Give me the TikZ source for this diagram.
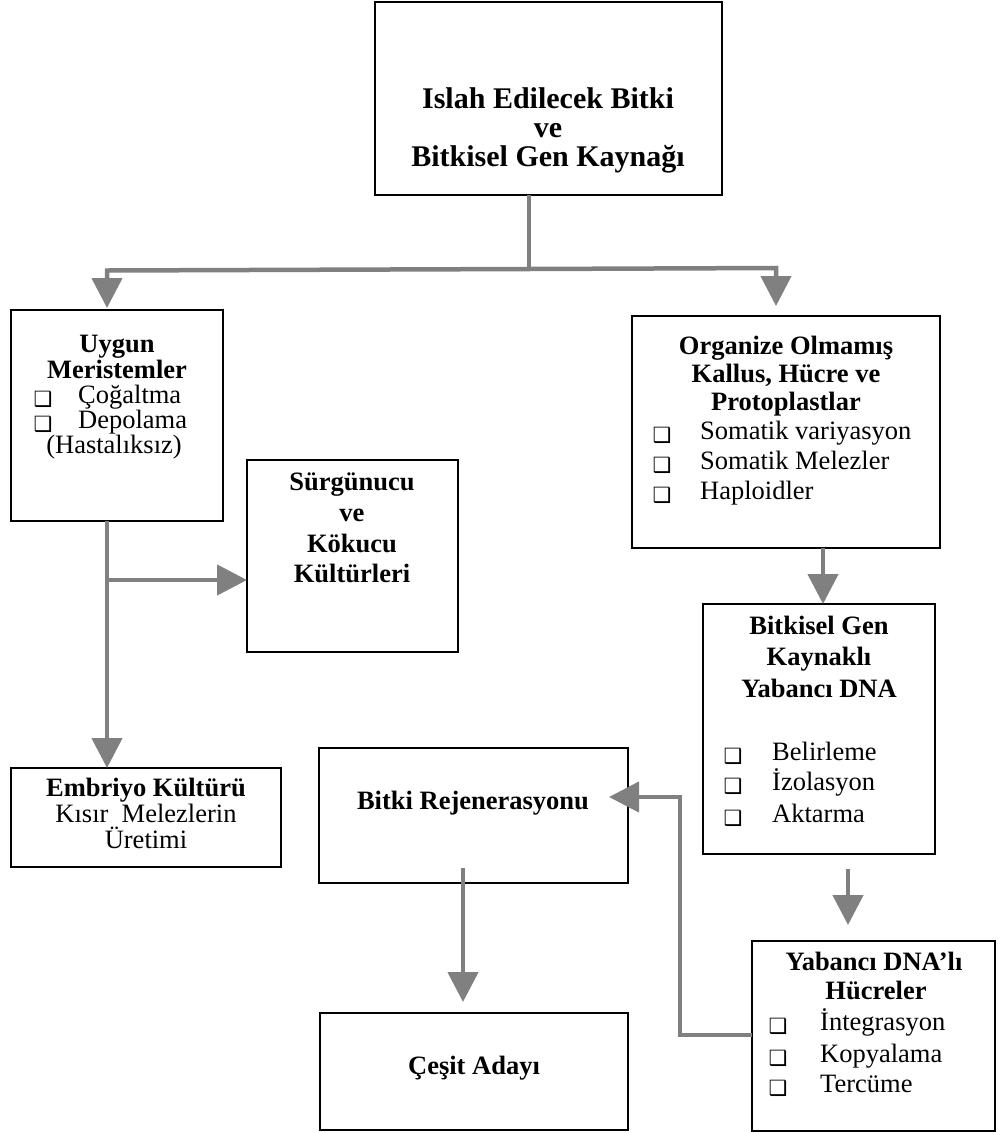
\documentclass[tikz,border=0pt]{standalone}
\usepackage{fontspec}
\setmainfont{Liberation Serif}
\newfontfamily\symfont{DejaVu Sans}
\usetikzlibrary{arrows.meta}
\definecolor{arrgray}{HTML}{808080}
\tikzset{
  box/.style={draw=black, line width=1.6pt, inner sep=0pt, outer sep=0pt, anchor=north west, fill=white},
  conn/.style={draw=arrgray, line width=4.5pt},
  arr/.style={conn, -{Triangle[width=30pt,length=30pt]}},
  ttl/.style={font=\fontsize{26.5}{30}\selectfont\bfseries, inner sep=0pt, anchor=mid},
  bigttl/.style={font=\fontsize{30}{34}\selectfont\bfseries, inner sep=0pt, anchor=mid},
  txt/.style={font=\fontsize{26.5}{30}\selectfont, inner sep=0pt, anchor=mid},
  itm/.style={font=\fontsize{26.5}{30}\selectfont, inner sep=0pt, anchor=mid west},
  chk/.style={font=\symfont\fontsize{21}{21}\selectfont, inner sep=0pt, anchor=center},
}
\begin{document}
\begin{tikzpicture}[x=1pt,y=-1pt]
\useasboundingbox (0,0) rectangle (997,1133);
% boxes
\node[box, minimum width=347pt, minimum height=193pt] (top) at (375,2) {};
\node[box, minimum width=212pt, minimum height=211pt] (uyg) at (11,310) {};
\node[box, minimum width=211pt, minimum height=192pt] (sur) at (247,460) {};
\node[box, minimum width=308pt, minimum height=232pt] (org) at (632,316) {};
\node[box, minimum width=232pt, minimum height=250pt] (bit) at (703,604) {};
\node[box, minimum width=270pt, minimum height=99pt] (emb) at (11,768) {};
\node[box, minimum width=309pt, minimum height=135pt] (bre) at (319,748) {};
\node[box, minimum width=308pt, minimum height=117pt] (ces) at (320,1013) {};
\node[box, minimum width=243pt, minimum height=190pt] (yab) at (752,941) {};

% texts: top
\node[bigttl] (t1) at (548,106) {Islah Edilecek Bitki};
\node[bigttl] (t2) at (548,135) {ve};
\node[bigttl] (t3) at (548,164) {Bitkisel Gen Kaynağı};
% Uygun
\node[ttl] (u1) at (117,350) {Uygun};
\node[ttl] (u2) at (117,376) {Meristemler};
\node[chk] (uc1) at (43,399) {❑};
\node[itm] (u3) at (78,401) {Çoğaltma};
\node[chk] (uc2) at (43,424) {❑};
\node[itm] (u4) at (78,426) {Depolama};
\node[txt] (u5) at (114,451) {(Hastalıksız)};
% Surgunucu
\node[ttl] (s1) at (352,488) {Sürgünucu};
\node[ttl] (s2) at (352,519) {ve};
\node[ttl] (s3) at (352,550) {Kökucu};
\node[ttl] (s4) at (352,580) {Kültürleri};
% Organize
\node[ttl] (o1) at (786,352) {Organize Olmamış};
\node[ttl] (o2) at (786,380) {Kallus, Hücre ve};
\node[ttl] (o3) at (786,408) {Protoplastlar};
\node[chk] (oc1) at (662,435) {❑};
\node[itm] (o4) at (700,437) {Somatik variyasyon};
\node[chk] (oc2) at (662,465) {❑};
\node[itm] (o5) at (700,467) {Somatik Melezler};
\node[chk] (oc3) at (662,495) {❑};
\node[itm] (o6) at (700,497) {Haploidler};
% Bitkisel
\node[ttl] (b1) at (819,632) {Bitkisel Gen};
\node[ttl] (b2) at (819,663) {Kaynaklı};
\node[ttl] (b3) at (819,695) {Yabancı DNA};
\node[chk] (bc1) at (733,756) {❑};
\node[itm] (b4) at (772,758) {Belirleme};
\node[chk] (bc2) at (733,786) {❑};
\node[itm] (b5) at (772,788) {İzolasyon};
\node[chk] (bc3) at (733,818) {❑};
\node[itm] (b6) at (772,820) {Aktarma};
% Embriyo
\node[ttl] (e1) at (146,794) {Embriyo Kültürü};
\node[txt] (e2) at (146,820) {Kısır\ \ Melezlerin};
\node[txt] (e3) at (146,846) {Üretimi};
% Bitki Rejenerasyonu
\node[ttl] (r1t) at (473,807) {Bitki Rejenerasyonu};
% Cesit
\node[ttl] (c1) at (474,1072) {Çeşit Adayı};
% Yabanci
\node[ttl] (y1) at (874,968) {Yabancı DNA’lı};
\node[ttl] (y2) at (876,997) {Hücreler};
\node[chk] (yc1) at (778,1026) {❑};
\node[itm] (y3) at (820,1028) {İntegrasyon};
\node[chk] (yc2) at (778,1058) {❑};
\node[itm] (y4) at (820,1060) {Kopyalama};
\node[chk] (yc3) at (778,1088) {❑};
\node[itm] (y5) at (820,1090) {Tercüme};

% connectors
\coordinate (j) at (529,269);
\coordinate (jL) at (107,270.5);
\coordinate (jR) at (776,268);
\coordinate (br) at (107,580);
\coordinate (oc) at (823,0);
\coordinate (bc) at (848,0);
\coordinate (rc) at (463,0);
\coordinate (q1) at (680,1035);
\coordinate (q2) at (680,797);
\draw[conn] (top.south -| j) -- (j);
\draw[arr, shorten >=2pt] (j) -- (jL) -- (jL |- uyg.north);
\draw[arr, shorten >=10pt] (j) -- (jR) -- (jR |- org.north);
\draw[arr] (uyg.south -| jL) -- (emb.north -| jL);
\draw[arr] (br) -- (br -| sur.west);
\draw[arr] (org.south -| oc) -- (bit.north -| oc);
\draw[arr, shorten <=15pt, shorten >=16pt] (bit.south -| bc) -- (yab.north -| bc);
\draw[arr, shorten >=-19pt] (yab.west |- q1) -- (q1) -- (q2) -- (q2 -| bre.east);
\draw[arr, shorten <=-15pt, shorten >=11pt] (bre.south -| rc) -- (ces.north -| rc);
\end{tikzpicture}
\end{document}
